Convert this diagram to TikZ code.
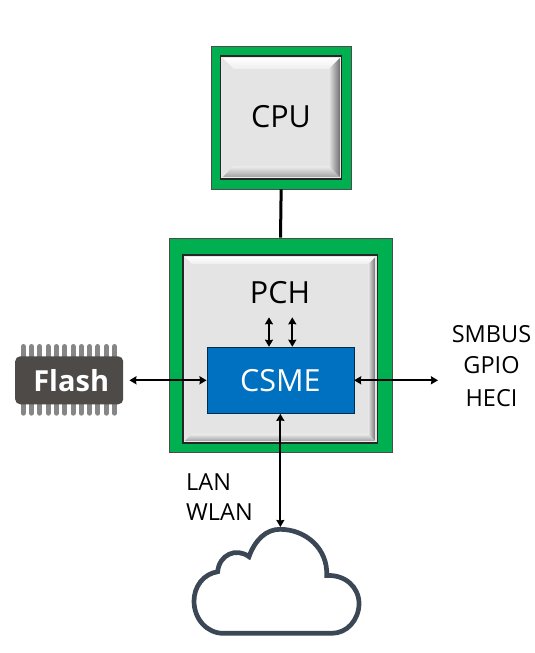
\documentclass[tikz,border=0pt]{standalone}
\usepackage{fontspec}
\setmainfont{Open Sans}
\usetikzlibrary{arrows.meta,positioning,calc}
\definecolor{board-green}{RGB}{0,176,80}
\definecolor{csme-blue}{RGB}{0,112,192}
\definecolor{chip-face}{RGB}{228,228,228}
\definecolor{flash-body}{RGB}{77,74,72}
\definecolor{flash-pin}{RGB}{134,134,134}
\definecolor{cloud-line}{RGB}{59,71,84}

% bevel round a chip face: node name, bevel width
\newcommand{\chipbevel}[2]{
  \coordinate (nw) at (#1.north west);
  \coordinate (ne) at (#1.north east);
  \coordinate (sw) at (#1.south west);
  \coordinate (se) at (#1.south east);
  \coordinate (inw) at ($(nw)+(#2,#2)$);
  \coordinate (ine) at ($(ne)+(-#2,#2)$);
  \coordinate (isw) at ($(sw)+(#2,-#2)$);
  \coordinate (ise) at ($(se)+(-#2,-#2)$);
  \shade[top color=white, bottom color=chip-face!60!white] (nw) -- (ne) -- (ine) -- (inw) -- cycle;
  \shade[left color=white!80!gray, right color=chip-face] (nw) -- (inw) -- (isw) -- (sw) -- cycle;
  \shade[left color=white!80!gray, right color=black!58] (ine) -- (ne) -- (se) -- (ise) -- cycle;
  \shade[top color=white!85!gray, bottom color=black!38] (isw) -- (ise) -- (se) -- (sw) -- cycle;
  \draw[white!82!gray, line width=1pt] (nw) rectangle (se);
}

\begin{document}
\begin{tikzpicture}[
    x=1pt, y=-1pt,
    board/.style={rectangle, draw=black!70, line width=0.7pt, fill=board-green, inner sep=0pt},
    socket/.style={rectangle, draw=black!85, line width=1.6pt, fill=chip-face, inner sep=0pt},
    face/.style={rectangle, inner sep=0pt},
    csmebox/.style={rectangle, draw=black!60!csme-blue, line width=0.6pt, fill=csme-blue, minimum width=147pt, minimum height=66.5pt, inner sep=0pt},
    flashbody/.style={rectangle, rounded corners=5pt, fill=flash-body, minimum width=108pt, minimum height=48pt, inner sep=0pt},
    pin/.style={draw=flash-pin, line width=5pt, line cap=round},
    label/.style={font=\fontsize{23.5}{27}\selectfont, align=center, inner sep=0pt},
    chiplabel/.style={font=\fontsize{30.5}{35}\selectfont, inner sep=0pt},
    arrow/.style={{Stealth[length=7pt,width=8pt,inset=0.5pt]}-{Stealth[length=7pt,width=8pt,inset=0.5pt]}, line width=1.9pt},
    link/.style={line width=3pt}
]

\useasboundingbox (0,0) rectangle (535,653);

% CPU
\node[board, minimum width=139.7pt, minimum height=142.7pt] (cpu) at (281.15,117.65) {};
\node[socket, minimum width=121pt, minimum height=123pt] (cpusocket) at (cpu.center) {};
\node[face, minimum width=118pt, minimum height=120pt] (cpuface) at (cpu.center) {};
\chipbevel{cpuface}{11.5}
\node[chiplabel] (cpulabel) at (281,117) {CPU};

% PCH
\node[board, minimum width=223pt, minimum height=214.7pt] (pch) at (280.5,345.35) {};
\node[socket, minimum width=194.6pt, minimum height=188pt] (pchsocket) at (280,349) {};
\node[face, minimum width=191pt, minimum height=184.5pt] (pchface) at (pchsocket.center) {};
\chipbevel{pchface}{7.5}
\node[chiplabel] (pchlabel) at (280,293) {PCH};

% CSME
\node[csmebox] (csme) at (280.35,380.3) {};
\node[chiplabel, text=white] (csmelabel) at (csme.center) {CSME};

% Flash
\foreach \px in {0,...,11} {
  \draw[pin] ({23.2+\px*8.3},346.5) -- ({23.2+\px*8.3},360);
  \draw[pin] ({23.2+\px*8.3},400) -- ({23.2+\px*8.3},413.2);
}
\node[flashbody] (flash) at (69.2,380.3) {};
\node[font=\fontsize{29}{34}\selectfont\bfseries, text=white, inner sep=0pt, xshift=2pt] (flashlabel) at (flash.center) {Flash};

% Cloud
\draw[draw=cloud-line, line width=4.7pt] (223.3,633.3) -- (331.7,633.3)
  .. controls (347,633.3) and (359,620) .. (359,603.5)
  .. controls (359,587) and (345,574.5) .. (326.7,575.5)
  .. controls (328,549) and (306,529.3) .. (280,529.3)
  .. controls (266,529.3) and (255,540) .. (249,556.7)
  .. controls (236,547) and (219,555) .. (217.7,571.7)
  .. controls (203,574) and (194,587) .. (194,601)
  .. controls (194,619) and (207,633.3) .. (223.3,633.3) -- cycle;
\coordinate (cloudtop) at (280.35,527);

% Labels
\node[label] (smbus) at (491.5,334) {SMBUS};
\node[label] (gpio) at (491.5,365) {GPIO};
\node[label] (heci) at (491.5,398) {HECI};
\node[label, anchor=west] (lan) at (186,482) {LAN};
\node[label, anchor=west] (wlan) at (186,512) {WLAN};

% Arrows
\coordinate (pchleft) at (269,317.3);
\coordinate (pchright) at (292.3,317.3);
\coordinate (busend) at (438,380.3);
\draw[link] (cpu.south) -- (pch.north);
\draw[arrow] (pchleft) -- (pchleft |- csme.north);
\draw[arrow] (pchright) -- (pchright |- csme.north);
\draw[arrow, shorten <=6pt] (flash.east) -- (csme.west);
\draw[arrow] (csme.east) -- (busend);
\draw[arrow] (csme.south) -- (cloudtop);

\end{tikzpicture}
\end{document}
